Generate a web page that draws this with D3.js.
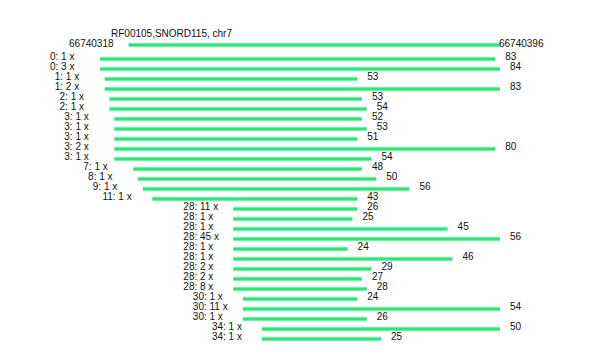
<!DOCTYPE html>
<html><head><meta charset="utf-8">
<script src="https://cdn.jsdelivr.net/npm/d3@7"></script>
<style>body{margin:0;background:#fff}text{font-family:"Liberation Sans",Arial,sans-serif;font-size:10px;fill:#111}</style>
</head><body><svg id="c" width="590" height="360"></svg>
<script>
const title = "RF00105,SNORD115, chr7";
const refStart = 66740318, refEnd = 66740396, refOffset = 6;
const offsets = [0,0,1,1,2,2,3,3,3,3,3,7,8,9,11,28,28,28,28,28,28,28,28,28,30,30,30,34,34];
const counts  = [1,3,1,2,1,1,1,1,1,2,1,1,1,1,1,11,1,1,45,1,1,2,2,8,1,11,1,1,1];
const lengths = [83,84,53,83,53,54,52,53,51,80,54,48,50,56,43,26,25,45,56,24,46,29,27,28,24,54,26,50,25];

const reads = offsets.map((o,i)=>({o, c:counts[i], len:lengths[i], i}));
const svg = d3.select("#c");
const x = d3.scaleLinear().domain([0,84]).range([100,500]);
const y = d3.scaleLinear().domain([0,28]).range([59,339]);
const refY = 45;

function bar(g, x1, x2, yy){
  g.append("line").attr("x1",x1).attr("x2",x2).attr("y1",yy).attr("y2",yy)
   .attr("stroke","#c4f7d6").attr("stroke-width",5);
  g.append("line").attr("x1",x1).attr("x2",x2).attr("y1",yy).attr("y2",yy)
   .attr("stroke","#2ee27c").attr("stroke-width",3);
}

svg.append("text").attr("x",111).attr("y",36.5).text(title);
const rg = svg.append("g");
bar(rg, x(refOffset), x(refOffset + refEnd - refStart), refY);
svg.append("text").attr("x",x(refOffset)-15).attr("y",refY+1.5).attr("text-anchor","end").text(refStart);
svg.append("text").attr("x",x(refOffset + refEnd - refStart)-1).attr("y",refY+1.5).text(refEnd);

const g = svg.append("g");
reads.forEach(d=>{
  const yy = y(d.i);
  bar(g, x(d.o), x(d.o+d.len), yy);
  g.append("text").attr("x",x(d.o)-50).attr("y",yy+1).text(d.o+": "+d.c+" x");
  g.append("text").attr("x",x(d.o+d.len)+10).attr("y",yy+1).text(d.len);
});
</script></body></html>
